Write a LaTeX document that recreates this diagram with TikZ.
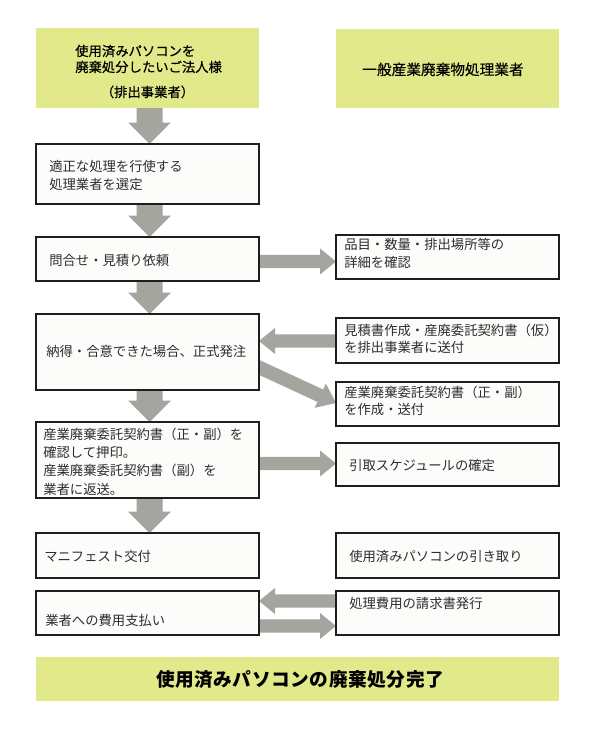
\documentclass[tikz,border=0pt]{standalone}
\usepackage{fontspec}
\setmainfont{Noto Sans CJK JP}
\newfontfamily\jphead{Noto Sans CJK JP}[FakeBold=0.4]
\usetikzlibrary{calc}
\pgfdeclarelayer{bg}
\pgfsetlayers{bg,main}
\definecolor{hdfill}{RGB}{225,233,139}
\definecolor{arrowgray}{RGB}{164,165,159}
\definecolor{boxfill}{RGB}{252,252,250}
\definecolor{boxline}{RGB}{30,30,30}
\definecolor{textgray}{RGB}{45,45,45}
\newcommand\mybox[6]{%
  \node[#6, minimum width={(#4-#2)*0.75pt}, minimum height={(#5-#3)*0.75pt}] (#1) at ({(#2+#4)/2},{(#3+#5)/2}) {};}
\newcommand\fatarrow[5]{%
  \coordinate (faC) at ($#2!#5!#1$);
  \fill[arrowgray] ($#1!#3!90:#2$) -- ($(faC)!#3!90:#2$) -- ($(faC)!#4!90:#2$) -- #2 -- ($(faC)!#4!-90:#2$) -- ($(faC)!#3!-90:#2$) -- ($#1!#3!-90:#2$) -- cycle;}
\tikzset{
  box/.style={draw=boxline, fill=boxfill, line width=0.9pt, inner sep=0pt, outer sep=0pt},
  hdbox/.style={fill=hdfill, inner sep=0pt, outer sep=0pt},
  txt/.style={anchor=base west, inner sep=0pt, font=\fontsize{10}{12}\selectfont, text=textgray},
  hdtxt/.style={anchor=base west, inner sep=0pt, font=\jphead\fontsize{10}{12}\selectfont, text=black},
  hdtxtc/.style={hdtxt, anchor=base},
  hdtxtb/.style={anchor=base, inner sep=0pt, font=\jphead\fontsize{11}{13}\selectfont, text=black},
  fintxt/.style={anchor=base, inner sep=0pt, font=\bfseries\fontsize{14}{16}\selectfont\addfontfeature{LetterSpace=3}, text=black},
}
\begin{document}
\begin{tikzpicture}[x=0.75pt,y=-0.75pt]
\begin{pgfonlayer}{bg}
\fill[white] (0,0) rectangle (600,730);
\end{pgfonlayer}
\useasboundingbox (0,0) rectangle (600,730);
% boxes
\mybox{h1}{36}{28}{259}{108}{hdbox}
\mybox{h2}{336}{29}{559}{108}{hdbox}
\mybox{b1}{36}{144}{259}{204}{box}
\mybox{b2}{36}{237}{259}{281}{box}
\mybox{b3}{36}{314}{259}{390}{box}
\mybox{b4}{36}{422}{259}{498}{box}
\mybox{b5}{36}{533}{259}{578}{box}
\mybox{b6}{36}{591}{259}{635}{box}
\mybox{r1}{336}{235}{559}{279}{box}
\mybox{r2}{336}{318}{559}{363}{box}
\mybox{r3}{336}{382}{559}{426}{box}
\mybox{r4}{336}{443}{559}{486}{box}
\mybox{r5}{336}{533}{559}{578}{box}
\mybox{r6}{336}{591}{559}{635}{box}
\mybox{fin}{36}{657}{559}{701}{hdbox}
% header texts
\node[hdtxt] (h1a) at (75,56) {使用済みパソコンを};
\node[hdtxt] (h1b) at (75,72) {廃棄処分したいご法人様};
\node[hdtxtc] (h1c) at (147.5,97) {（排出事業者）};
\node[hdtxtb] (h2a) at (443,75) {一般産業廃棄物処理業者};
\node[fintxt] (fina) at (300,686) {使用済みパソコンの廃棄処分完了};
% left texts
\node[txt] (t1a) at (49,172) {適正な処理を行使する};
\node[txt] (t1b) at (49,190) {処理業者を選定};
\node[txt] (t2a) at (49,266) {問合せ・見積り依頼};
\node[txt] (t3a) at (46,356) {納得・合意できた場合、正式発注};
\node[txt] (t4a) at (43,439) {産業廃棄委託契約書（正・副）を};
\node[txt] (t4b) at (43,457) {確認して押印。};
\node[txt] (t4c) at (43,475.5) {産業廃棄委託契約書（副）を};
\node[txt] (t4d) at (43,494) {業者に返送。};
\node[txt] (t5a) at (44,561.5) {マニフェスト交付};
\node[txt] (t6a) at (45,625.5) {業者への費用支払い};
% right texts
\node[txt] (s1a) at (344,250) {品目・数量・排出場所等の};
\node[txt] (s1b) at (344,268) {詳細を確認};
\node[txt] (s2a) at (344,335.5) {見積書作成・産廃委託契約書（仮）};
\node[txt] (s2b) at (344,352) {を排出事業者に送付};
\node[txt] (s3a) at (344,397.5) {産業廃棄委託契約書（正・副）};
\node[txt] (s3b) at (344,414) {を作成・送付};
\node[txt] (s4a) at (349,470) {引取スケジュールの確定};
\node[txt] (s5a) at (349,561) {使用済みパソコンの引き取り};
\node[txt] (s6a) at (349,608) {処理費用の請求書発行};
% arrows
\begin{pgfonlayer}{bg}
\coordinate (v1s) at ($(h1.south)+(2,0)$); \coordinate (v1e) at ($(b1.north)+(2,0)$);
\coordinate (v2s) at ($(b1.south)+(2,0)$); \coordinate (v2e) at ($(b2.north)+(2,0)$);
\coordinate (v3s) at ($(b2.south)+(2,0)$); \coordinate (v3e) at ($(b3.north)+(2,0)$);
\coordinate (v4s) at ($(b3.south)+(2,0)$); \coordinate (v4e) at ($(b4.north)+(2,0)$);
\coordinate (v5s) at ($(b4.south)+(2,0)$); \coordinate (v5e) at ($(b5.north)+(2,0)$);
\fatarrow{(v1s)}{(v1e)}{9.75pt}{16pt}{16pt}
\fatarrow{(v2s)}{(v2e)}{9.75pt}{16pt}{16pt}
\fatarrow{(v3s)}{(v3e)}{9.75pt}{16pt}{16pt}
\fatarrow{(v4s)}{(v4e)}{9.75pt}{16pt}{16pt}
\fatarrow{(v5s)}{(v5e)}{9.75pt}{16pt}{16pt}
\coordinate (hAs) at ($(b2.east)+(-2,2.5)$); \coordinate (hAe) at ($(r1.west)+(0,4.5)$);
\coordinate (hBs) at ($(r2.west)+(2,0.5)$); \coordinate (hBe) at ($(b3.east)+(0,-11)$);
\coordinate (hCs) at ($(b3.east)+(-5,13)$); \coordinate (hCe) at ($(r3.west)+(0,-1)$);
\coordinate (hDs) at ($(b4.east)+(-2,3.5)$); \coordinate (hDe) at ($(r4.west)+(0,-1)$);
\coordinate (hEs) at ($(r6.west)+(2,-12)$); \coordinate (hEe) at ($(b6.east)+(0,-12)$);
\coordinate (hFs) at ($(b6.east)+(-2,13)$); \coordinate (hFe) at ($(r6.west)+(0,13)$);
\fatarrow{(hAs)}{(hAe)}{4.9pt}{9.75pt}{12pt}
\fatarrow{(hBs)}{(hBe)}{4.9pt}{9.75pt}{12pt}
\fatarrow{(hCs)}{(hCe)}{5.1pt}{10pt}{13pt}
\fatarrow{(hDs)}{(hDe)}{4.9pt}{9.75pt}{12pt}
\fatarrow{(hEs)}{(hEe)}{4.9pt}{9.75pt}{12pt}
\fatarrow{(hFs)}{(hFe)}{4.9pt}{9.75pt}{12pt}
\end{pgfonlayer}
\end{tikzpicture}
\end{document}
